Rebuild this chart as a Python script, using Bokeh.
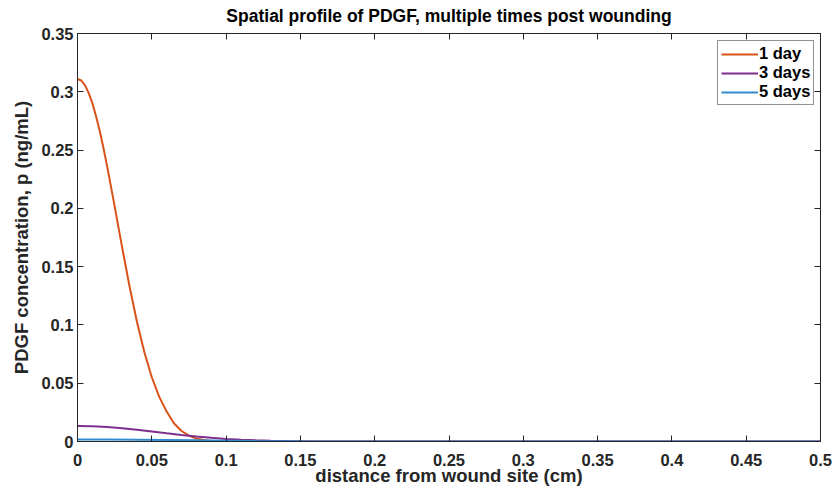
from bokeh.plotting import figure
from bokeh.models import (Range1d, FixedTicker, CustomJSTickFormatter, LinearAxis,
                          Legend, LegendItem, Title)
from bokeh.embed import file_html
from bokeh.resources import INLINE

# PDGF spatial profiles (ng/mL) vs distance from wound site (cm)
x_day1 = [0.0, 0.0025, 0.005, 0.0075, 0.01, 0.0125, 0.015, 0.0175, 0.02, 0.025,
          0.03, 0.035, 0.04, 0.045, 0.05, 0.055, 0.06, 0.065, 0.07, 0.075, 0.08,
          0.085, 0.09, 0.1, 0.11, 0.5]
p_day1 = [0.311, 0.3097, 0.3057, 0.2991, 0.2902, 0.2790, 0.2661, 0.2515, 0.2358,
          0.2017, 0.1668, 0.1332, 0.1027, 0.0765, 0.0551, 0.0383, 0.0257, 0.0155,
          0.0090, 0.0050, 0.0025, 0.0012, 0.0005, 0.0001, 0.0, 0.0]

x_day3 = [0.0, 0.01, 0.02, 0.03, 0.04, 0.05, 0.06, 0.07, 0.08, 0.09, 0.1, 0.11,
          0.12, 0.13, 0.14, 0.15, 0.16, 0.18, 0.5]
p_day3 = [0.0133, 0.0131, 0.0124, 0.0113, 0.0100, 0.0085, 0.0070, 0.0056, 0.0043,
          0.0032, 0.0022, 0.0015, 0.0010, 0.0006, 0.0004, 0.0002, 0.0001, 0.0, 0.0]

x_day5 = [0.0, 0.02, 0.04, 0.06, 0.08, 0.1, 0.12, 0.14, 0.16, 0.2, 0.5]
p_day5 = [0.0018, 0.0017, 0.0016, 0.0013, 0.0010, 0.0007, 0.0004, 0.0003, 0.0001,
          0.0, 0.0]

series_names = ["1 day", "3 days", "5 days"]
series_colors = ["#D95319", "#7E2F8E", "#2F8BD2"]

x_ticks = [0, 0.05, 0.1, 0.15, 0.2, 0.25, 0.3, 0.35, 0.4, 0.45, 0.5]
y_ticks = [0, 0.05, 0.1, 0.15, 0.2, 0.25, 0.3, 0.35]

FONT = "Liberation Sans"
TXT = "#262626"

p = figure(width=835, height=491, output_backend="svg", toolbar_location=None,
           x_range=Range1d(0, 0.5), y_range=Range1d(0, 0.35),
           min_border_left=77, min_border_right=15, min_border_top=32,
           min_border_bottom=50, x_axis_location=None, y_axis_location=None)
p.grid.visible = False
p.outline_line_color = "#262626"
p.outline_line_width = 1
p.background_fill_color = "white"
p.border_fill_color = "white"

fmt = CustomJSTickFormatter(code="return String(Math.round(tick*100)/100);")
blank = CustomJSTickFormatter(code="return '';")

def style_axis(ax):
    ax.major_tick_in = 6
    ax.major_tick_out = 0
    ax.minor_tick_in = 0
    ax.minor_tick_out = 0
    ax.axis_line_color = "#262626"
    ax.major_tick_line_color = "#262626"
    ax.major_label_text_font = FONT
    ax.major_label_text_font_style = "bold"
    ax.major_label_text_font_size = "16.5px"
    ax.major_label_text_color = TXT
    ax.axis_label_text_font = FONT
    ax.axis_label_text_font_style = "bold"
    ax.axis_label_text_font_size = "18.5px"
    ax.axis_label_text_color = TXT

xb = LinearAxis(ticker=FixedTicker(ticks=x_ticks), formatter=fmt,
                axis_label="distance from wound site (cm)")
style_axis(xb)
xb.major_label_standoff = 12
xb.axis_label_standoff = -4
p.add_layout(xb, "below")

yl = LinearAxis(ticker=FixedTicker(ticks=y_ticks), formatter=fmt,
                axis_label="PDGF concentration, p (ng/mL)")
style_axis(yl)
yl.major_label_standoff = 4
yl.axis_label_standoff = 6
p.add_layout(yl, "left")

# Mirror ticks on the top and right edges of the box
xt = LinearAxis(ticker=FixedTicker(ticks=x_ticks), formatter=blank)
style_axis(xt)
xt.major_label_standoff = 0
p.add_layout(xt, "above")

yr = LinearAxis(ticker=FixedTicker(ticks=y_ticks), formatter=blank)
style_axis(yr)
yr.major_label_standoff = 0
p.add_layout(yr, "right")

r1 = p.line(x_day1, p_day1, line_color=series_colors[0], line_width=2)
r2 = p.line(x_day3, p_day3, line_color=series_colors[1], line_width=2)
r3 = p.line(x_day5, p_day5, line_color=series_colors[2], line_width=2)

legend = Legend(items=[LegendItem(label=series_names[0], renderers=[r1]),
                       LegendItem(label=series_names[1], renderers=[r2]),
                       LegendItem(label=series_names[2], renderers=[r3])],
                location=(640, 336))
legend.label_text_font = FONT
legend.label_text_font_style = "bold"
legend.label_text_font_size = "16.5px"
legend.label_text_color = "black"
legend.border_line_color = "#262626"
legend.border_line_width = 1
legend.glyph_width = 37
legend.glyph_height = 16
legend.label_height = 16
legend.spacing = 0
legend.padding = 3
legend.margin = 0
legend.label_standoff = 1
p.add_layout(legend, "center")

p.title = Title(text="Spatial profile of PDGF, multiple times post wounding",
                align="center", vertical_align="top", text_font=FONT,
                text_font_style="bold", text_font_size="17.5px",
                text_color="black", standoff=11)

open("out.html", "w").write(file_html(p, INLINE))
